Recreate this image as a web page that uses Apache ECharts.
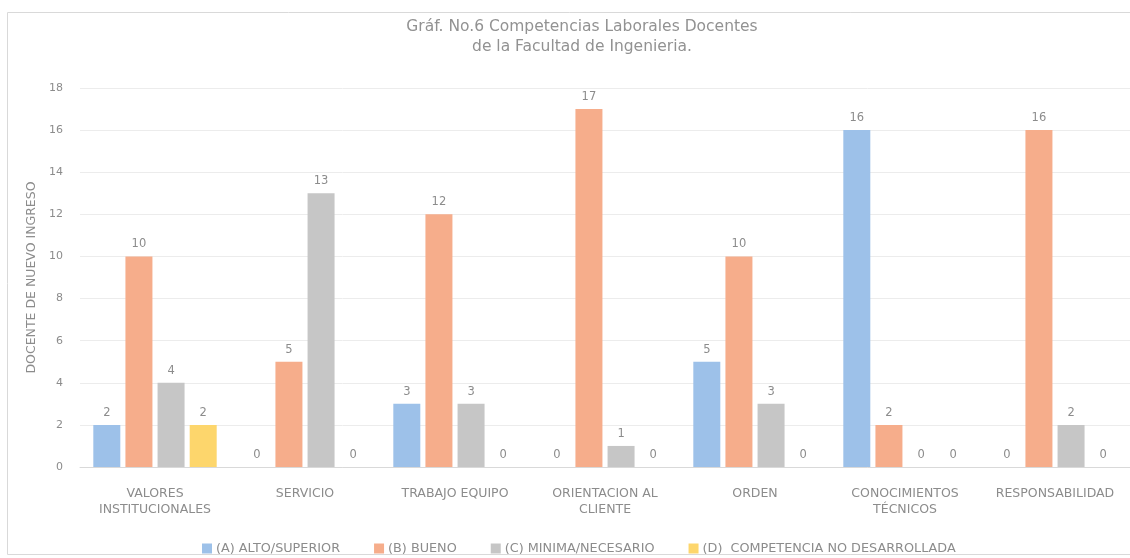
<!DOCTYPE html>
<html>
<head>
<meta charset="utf-8">
<script src="https://cdn.jsdelivr.net/npm/echarts@6/dist/echarts.min.js"></script>
<style>
  html, body { margin: 0; padding: 0; background: #fff; }
  #chart { width: 1130px; height: 558px; }
</style>
</head>
<body>
<div id="chart"></div>
<script>
// categories and values
const categories = [
  'VALORES\nINSTITUCIONALES',
  'SERVICIO',
  'TRABAJO EQUIPO',
  'ORIENTACION AL\nCLIENTE',
  'ORDEN',
  'CONOCIMIENTOS\nTÉCNICOS',
  'RESPONSABILIDAD'
]
const seriesNames = [
  '(A) ALTO/SUPERIOR',
  '(B) BUENO',
  '(C) MINIMA/NECESARIO',
  '(D)  COMPETENCIA NO DESARROLLADA'
]
const altoSuperior = [2, 0, 3, 0, 5, 16, 0]
const bueno = [10, 5, 12, 17, 10, 2, 16]
const minimaNecesario = [4, 13, 3, 1, 3, 0, 2]
const noDesarrollada = [2, 0, 0, 0, 0, 0, 0]
const yTicks = [0, 2, 4, 6, 8, 10, 12, 14, 16, 18]

const colors = ['#9dc1e9', '#f6ad8b', '#c6c6c6', '#fdd66c']
const font = "'DejaVu Sans', sans-serif"
const textGrey = '#8c8c8c'

const chart = echarts.init(document.getElementById('chart'))

function barSeries(name, data, color) {
  return {
    name: name,
    type: 'bar',
    data: data,
    barWidth: 27,
    barGap: '19%',
    itemStyle: { color: color },
    label: {
      show: true,
      position: 'top',
      distance: 6,
      color: textGrey,
      fontFamily: font,
      fontSize: 11.5
    },
    animation: false
  }
}

chart.setOption({
  animation: false,
  title: {
    text: 'Gráf. No.6 Competencias Laborales Docentes\nde la Facultad de Ingenieria.',
    left: 577,
    top: 12,
    textAlign: 'center',
    textStyle: {
      color: '#929292',
      fontFamily: font,
      fontWeight: 'normal',
      fontSize: 15.5,
      lineHeight: 20
    }
  },
  graphic: [{
    type: 'rect',
    shape: { x: 7.5, y: 12.5, width: 1140, height: 542 },
    style: { fill: 'none', stroke: '#d9d9d9', lineWidth: 1 },
    silent: true
  }],
  legend: {
    data: seriesNames,
    left: 197,
    top: 537,
    itemWidth: 10,
    itemHeight: 10,
    itemGap: 34,
    icon: 'rect',
    textStyle: { color: textGrey, fontFamily: font, fontSize: 12.8, padding: [0, 0, 0, -1] }
  },
  grid: {
    left: 80,
    right: 0,
    top: 88,
    bottom: 91,
    containLabel: false
  },
  xAxis: {
    type: 'category',
    data: categories,
    axisTick: { show: false },
    axisLine: { lineStyle: { color: '#d9d9d9' } },
    axisLabel: {
      color: textGrey,
      fontFamily: font,
      fontSize: 12.5,
      lineHeight: 16,
      margin: 19,
      interval: 0
    }
  },
  yAxis: {
    type: 'value',
    min: yTicks[0],
    max: yTicks[yTicks.length - 1],
    interval: 2,
    name: 'DOCENTE DE NUEVO INGRESO',
    nameLocation: 'middle',
    nameRotate: 90,
    nameGap: 33,
    nameTextStyle: { color: textGrey, fontFamily: font, fontSize: 12.5 },
    axisLine: { show: false },
    axisTick: { show: false },
    splitLine: { lineStyle: { color: '#ececec' } },
    axisLabel: { color: textGrey, fontFamily: font, fontSize: 11, margin: 17 }
  },
  series: [
    barSeries(seriesNames[0], altoSuperior, colors[0]),
    barSeries(seriesNames[1], bueno, colors[1]),
    barSeries(seriesNames[2], minimaNecesario, colors[2]),
    barSeries(seriesNames[3], noDesarrollada, colors[3])
  ]
})
</script>
</body>
</html>
